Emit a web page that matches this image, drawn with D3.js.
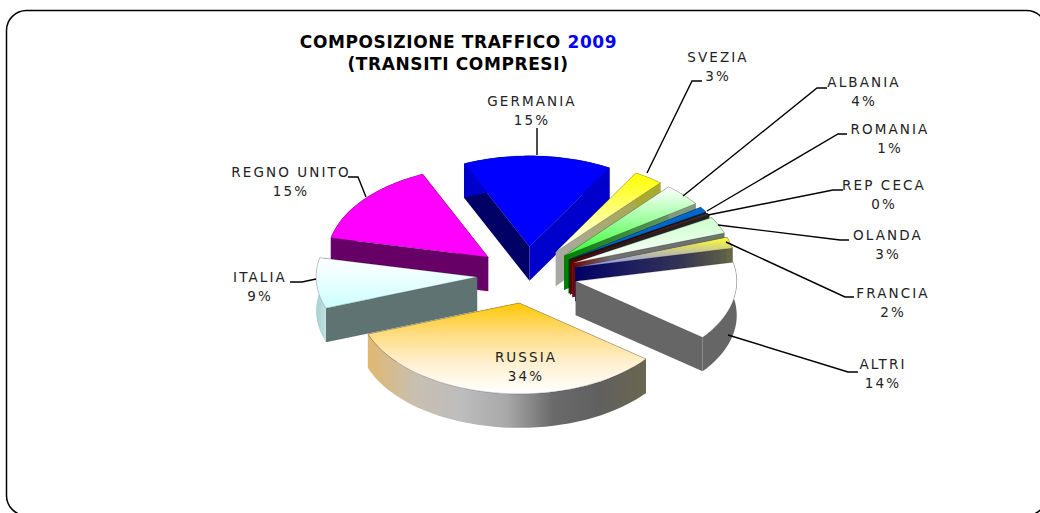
<!DOCTYPE html>
<html><head><meta charset="utf-8">
<script src="https://cdn.jsdelivr.net/npm/d3@7"></script>
<style>html,body{margin:0;padding:0;background:#fff}svg{display:block}text{font-family:"DejaVu Sans",Verdana,sans-serif}</style>
</head><body><svg id="c" width="1040" height="513"></svg>
<script>
// ---- data ----
const categories = ["GERMANIA","SVEZIA","ALBANIA","ROMANIA","REP CECA","OLANDA","FRANCIA","ALTRI","RUSSIA","ITALIA","REGNO UNITO"];
const values = [15,3,4,1,0.4,3,2,14,34,9,15];
const titleLines = ["COMPOSIZIONE TRAFFICO ","2009","(TRANSITI COMPRESI)"];

// ---- styles ----
const topFill = [["#0000ff","#0000ff"],["#ffff00","#ffffff"],["#ffffff","#33ff33"],["#0066cc","#0066cc"],["#333333","#800000"],["#ccffcc","#ffffff"],["#ffff33","#8888ff"],["#ffffff","#ffffff"],["#ffc800","#ffdc80","#fff0d0","#ffffff"],["#ffffff","#ccffff"],["#ff00ff","#ff00ff"]];
const startWall = [["#000066","#000066"],["#888888","#888888"],["#555555","#555555"],["#002040","#002040"],["#500000","#500000"],["#555555","#555555"],["#333333","#333333"],["#666666","#666666"],["#666666","#666666"],["#5f7373","#5f7373"],["#660066","#660066"]];
const endWall = [["#0000cc","#0000cc"],["#a8a8a8","#aaaa33"],["#008000","#7f9a7f"],["#004000","#101010","#101010","#102030"],["#600000","#222222","#222222","#222222"],["#700000","#707070","#707070","#707070","#6a7a6a"],["#000066","#1c1c60","#333355","#666644"],["#666666","#666666"],["#666666","#666666"],["#5f7373","#5f7373"],["#660066","#660066"]];
const arcWall = [["#0000cc"],["#aaaa33"],["#7f9a7f"],["#102030"],["#222222"],["#6a7a6a"],["#666644"],["#666666"],["#e0b870","#c8bfb0","#bdbdbd","#a8a8a8","#6a6a6a","#606060","#6a6650"],["#a8d0d0","#c0e0e0"],["#660066"]];

// ---- layout ----
const cx=527, cy=275, R=161, K=0.565, EXPL=50, DEPTH=34;
const labelAt = [[532,106],[718,62],[864,87],[890,134],[884,190],[888,240],[893,298],[883,369],[526,362],[260,282],[291,177]];
const leaders = [
 [[537,128],[537,155]],
 [[647,173],[692,81],[702,81]],
 [[683,196],[817,88],[827,88]],
 [[707,211],[838,134],[847,134]],
 [[708,215],[833,190],[843,190]],
 [[718,225],[840,240],[849,240]],
 [[726,242],[845,297],[854,297]],
 [[728,335],[848,372],[858,372]],
 null,
 [[316,279],[302,282],[290,282]],
 [[366,197],[358,177],[348,177]]
];
const paintOrder = [0,1,2,3,4,5,6,7,10,9,8];

const svg = d3.select("#c");
const defs = svg.append("defs");
svg.append("rect").attr("x",6.5).attr("y",10.5).attr("width",1040).attr("height",505).attr("rx",20).attr("ry",20)
   .attr("fill","#fff").attr("stroke","#000").attr("stroke-width",1.5);

const pie = d3.pie().sort(null).startAngle(-24*Math.PI/180).endAngle(336*Math.PI/180);
const arcs = pie(values);
const line = d3.line();
function grad(id,stops,vertical){
  const g=defs.append("linearGradient").attr("id",id).attr("x1",0).attr("y1",0)
    .attr("x2",vertical?0:1).attr("y2",vertical?1:0);
  stops.forEach((c,i)=>g.append("stop").attr("offset",stops.length>1?i/(stops.length-1):0).attr("stop-color",c));
  return `url(#${id})`;
}
const gTop = svg.append("g");
paintOrder.forEach(i=>{
  const a=arcs[i], mid=(a.startAngle+a.endAngle)/2;
  const ax=cx+EXPL*Math.sin(mid), ay=cy-EXPL*K*Math.cos(mid);
  const P=t=>[ax+R*Math.sin(t), ay-R*K*Math.cos(t)];
  const down=p=>[p[0],p[1]+DEPTH];
  const apex=[ax,ay];
  const rim=d3.range(0,41).map(k=>P(a.startAngle+(a.endAngle-a.startAngle)*k/40));
  const s=gTop.append("g");
  // radial walls
  const sw=[rim[0],down(rim[0]),down(apex),apex];
  const ew=[apex,down(apex),down(rim[40]),rim[40]];
  s.append("path").attr("d",line(sw)+"Z").attr("fill",grad("sw"+i,startWall[i],false));
  s.append("path").attr("d",line(ew)+"Z").attr("fill",grad("ew"+i,endWall[i],false));
  // outer wall
  const ow=rim.concat(rim.slice().reverse().map(down));
  s.append("path").attr("d",line(ow)+"Z").attr("fill",grad("aw"+i,arcWall[i],false));
  // top face
  s.append("path").attr("d",line([apex].concat(rim))+"Z").attr("fill",grad("tf"+i,topFill[i],true))
   .attr("stroke","rgba(0,0,0,.35)").attr("stroke-width",.6);
});

// leader lines
svg.append("g").selectAll("path").data(leaders.filter(Boolean)).join("path")
  .attr("d",line).attr("fill","none").attr("stroke","#000").attr("stroke-width",1.4);

// labels
const lg=svg.append("g").attr("text-anchor","middle").attr("font-size",13.5).attr("fill","#222").style("letter-spacing","2.1px");
categories.forEach((c,i)=>{
  lg.append("text").attr("x",labelAt[i][0]).attr("y",labelAt[i][1]).text(c);
  lg.append("text").attr("x",labelAt[i][0]).attr("y",labelAt[i][1]+19).text(Math.round(values[i])+"%");
});

// title
const tg=svg.append("g").attr("text-anchor","middle").attr("font-weight","bold").attr("font-size",17).attr("fill","#000").style("letter-spacing","0.6px");
const t1=tg.append("text").attr("x",458.5).attr("y",48).attr("xml:space","preserve");
t1.append("tspan").text(titleLines[0]).style("white-space","pre");
t1.append("tspan").attr("fill","#0000ff").text(titleLines[1]);
tg.append("text").attr("x",458).attr("y",70).text(titleLines[2]);
</script></body></html>
